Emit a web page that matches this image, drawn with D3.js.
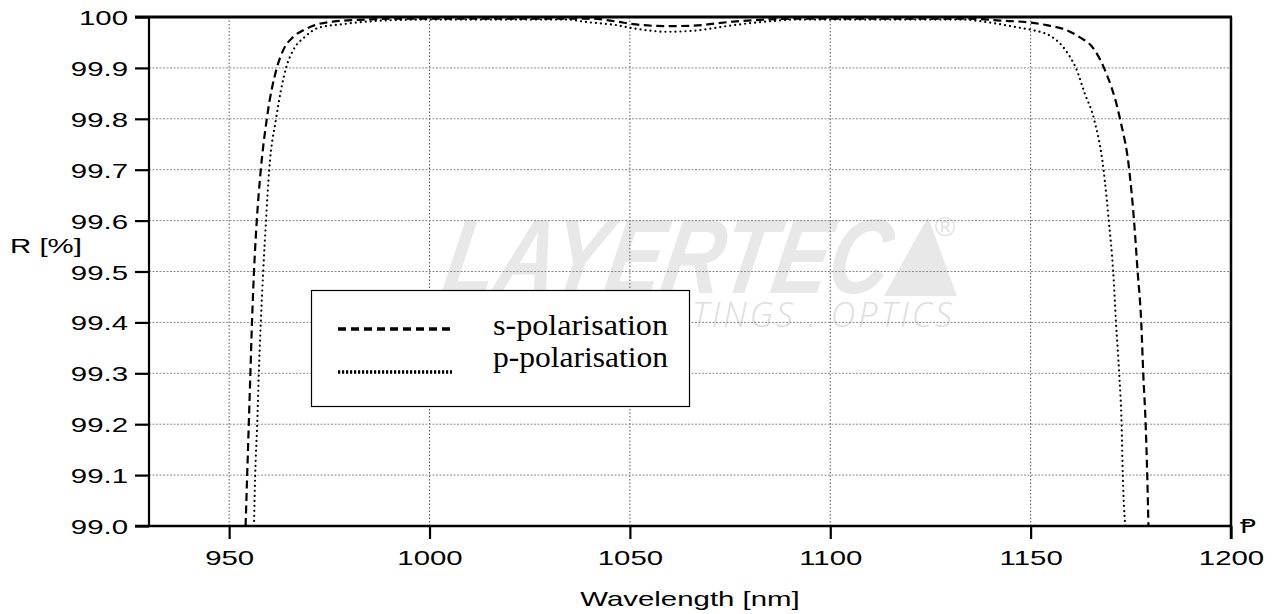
<!DOCTYPE html>
<html>
<head>
<meta charset="utf-8">
<script src="https://cdn.jsdelivr.net/npm/d3@7/dist/d3.min.js"></script>
<style>
  html, body { margin: 0; padding: 0; background: #fff; }
  svg { display: block; }
</style>
</head>
<body>
<svg id="chart" width="1275" height="614"></svg>
<script>
// ---------------- data ----------------
const xTicks = [950, 1000, 1050, 1100, 1150, 1200];
const xTickLabels = ["950", "1000", "1050", "1100", "1150", "1200"];
const yTicks = [99.0, 99.1, 99.2, 99.3, 99.4, 99.5, 99.6, 99.7, 99.8, 99.9, 100];
const yTickLabels = ["99.0", "99.1", "99.2", "99.3", "99.4", "99.5", "99.6", "99.7", "99.8", "99.9", "100"];
const seriesNames = ["s-polarisation", "p-polarisation"];
const xTitle = "Wavelength [nm]";
const yTitle = "R [%]";

const sWavelength = [954.1, 954.5, 954.9, 955.3, 955.7, 956.2, 956.9, 957.9, 959.4, 961.9,
  963.5, 966.0, 968.5, 971.4, 975.9, 984.3, 995, 1040, 1046.7, 1050.8, 1059.2, 1065.8,
  1075.8, 1084.1, 1095, 1134, 1142.5, 1150, 1154, 1159, 1162.3, 1165.5, 1168.3, 1172.3,
  1174.6, 1175.8, 1176.7, 1177.6, 1178.1, 1178.7, 1179.1, 1179.4];
const sReflectance = [99.0, 99.1, 99.2, 99.3, 99.4, 99.5, 99.6, 99.7, 99.8, 99.9,
  99.935, 99.961, 99.974, 99.984, 99.991, 99.995, 99.997, 99.997, 99.991, 99.986, 99.982, 99.983,
  99.991, 99.995, 99.997, 99.997, 99.993, 99.989, 99.984, 99.974, 99.96, 99.94, 99.9, 99.8,
  99.7, 99.6, 99.5, 99.4, 99.3, 99.2, 99.1, 99.0];

const pWavelength = [956.2, 956.5, 957.0, 957.4, 957.9, 958.5, 959.2, 960.0, 961.7, 964.2,
  966.0, 968.9, 972.3, 978.4, 988.4, 1000, 1035, 1038.3, 1046.7, 1050.8, 1059.2, 1065.8,
  1075.8, 1084.1, 1092, 1133, 1138.2, 1146.5, 1150.6, 1154.9, 1157.8, 1159.8, 1161.3, 1163.5,
  1165.8, 1168.2, 1169.5, 1170.6, 1171.3, 1172.1, 1172.7, 1173.0, 1173.6];
const pReflectance = [99.0, 99.1, 99.2, 99.3, 99.4, 99.5, 99.6, 99.7, 99.8, 99.9,
  99.935, 99.961, 99.979, 99.986, 99.993, 99.995, 99.995, 99.991, 99.984, 99.978, 99.971, 99.973,
  99.984, 99.991, 99.995, 99.995, 99.991, 99.980, 99.974, 99.963, 99.944, 99.922, 99.9, 99.85,
  99.8, 99.7, 99.6, 99.5, 99.4, 99.3, 99.2, 99.1, 99.0];

// ---------------- layout ----------------
const svg = d3.select("#chart");
const L = 149, R = 1231, T = 17, B = 526;
const x = d3.scaleLinear().domain([930, 1200]).range([L, R]);
const y = d3.scaleLinear().domain([99, 100]).range([B, T]);
const SANS = "'Liberation Sans', Arial, 'DejaVu Sans', sans-serif";
const SERIF = "'Liberation Serif', 'Times New Roman', serif";
const STRETCH = 1.4;

// ---------------- watermark ----------------
const wm = svg.append("g").attr("class", "watermark");
wm.append("g").attr("transform", "translate(440,293) skewX(-10)")
  .append("text")
  .attr("x", 0).attr("y", 0)
  .attr("font-family", SANS).attr("font-weight", "bold").attr("font-style", "italic")
  .attr("font-size", 106)
  .attr("textLength", 445).attr("lengthAdjust", "spacingAndGlyphs")
  .attr("fill", "#e8e8e8")
  .text("LAYERTEC");
wm.append("polygon")
  .attr("points", "928,217 957,296 884,296")
  .attr("fill", "#e8e8e8");
wm.append("text")
  .attr("x", 945).attr("y", 236)
  .attr("text-anchor", "middle")
  .attr("font-family", SANS).attr("font-size", 28)
  .attr("fill", "#e2e2e2")
  .text("®");
wm.append("text")
  .attr("x", 692).attr("y", 327)
  .attr("font-family", "'Open Sans', 'Liberation Sans', sans-serif")
  .attr("font-weight", 300).attr("font-style", "italic")
  .attr("font-size", 34)
  .attr("textLength", 260).attr("lengthAdjust", "spacing")
  .attr("fill", "#dedede")
  .text("TINGS . OPTICS");

// ---------------- grid ----------------
const grid = svg.append("g").attr("class", "grid");
grid.selectAll("line.vg").data(xTicks.filter(d => d < 1200)).join("line")
  .attr("class", "vg")
  .attr("x1", d => x(d)).attr("x2", d => x(d))
  .attr("y1", T).attr("y2", B)
  .attr("stroke", "#555").attr("stroke-width", 1).attr("stroke-dasharray", "1.5,2");
grid.selectAll("line.hg").data(yTicks.filter(d => d > 99 && d < 100)).join("line")
  .attr("class", "hg")
  .attr("x1", L).attr("x2", R)
  .attr("y1", d => y(d)).attr("y2", d => y(d))
  .attr("stroke", "#8a8a8a").attr("stroke-width", 1).attr("stroke-dasharray", "2,1.5");

// ---------------- curves ----------------
svg.append("clipPath").attr("id", "plotclip")
  .append("rect").attr("x", L).attr("y", T).attr("width", R - L).attr("height", B - T);

const line = d3.line()
  .x(d => x(d[0])).y(d => y(d[1]))
  .curve(d3.curveMonotoneX);

const sData = sWavelength.map((w, i) => [w, sReflectance[i]]);
const pData = pWavelength.map((w, i) => [w, pReflectance[i]]);

const curves = svg.append("g").attr("clip-path", "url(#plotclip)");
curves.append("path").datum(sData)
  .attr("d", line)
  .attr("fill", "none").attr("stroke", "#000")
  .attr("stroke-width", 2.2).attr("stroke-dasharray", "8,4.5");
curves.append("path").datum(pData)
  .attr("d", line)
  .attr("fill", "none").attr("stroke", "#000")
  .attr("stroke-width", 2.2).attr("stroke-linecap", "round")
  .attr("stroke-dasharray", "0.01,5");

// ---------------- axes ----------------
const yAxis = d3.axisLeft(y).tickValues(yTicks)
  .tickFormat((d, i) => yTickLabels[i]).tickSize(14).tickSizeOuter(0);
const yg = svg.append("g").attr("transform", `translate(${L},0)`).call(yAxis);
yg.select(".domain").remove();
yg.selectAll(".tick line").attr("stroke", "#000").attr("stroke-width", 2.2);
yg.selectAll(".tick text")
  .attr("font-family", SANS).attr("font-size", 21).attr("fill", "#000")
  .attr("x", -21 / STRETCH).attr("dy", "0.36em")
  .attr("transform", `scale(${STRETCH},1)`);

const xAxis = d3.axisBottom(x).tickValues(xTicks)
  .tickFormat((d, i) => xTickLabels[i]).tickSize(13).tickSizeOuter(0);
const xg = svg.append("g").attr("transform", `translate(0,${B})`).call(xAxis);
xg.select(".domain").remove();
xg.selectAll(".tick line").attr("stroke", "#000").attr("stroke-width", 2.2);
xg.selectAll(".tick text")
  .attr("font-family", SANS).attr("font-size", 21).attr("fill", "#000")
  .attr("y", 39).attr("dy", 0)
  .attr("transform", `scale(${STRETCH},1)`);

// frame
const frame = svg.append("g").attr("stroke", "#000").attr("fill", "none");
frame.append("line").attr("x1", L - 14).attr("x2", R + 1).attr("y1", T).attr("y2", T).attr("stroke-width", 3);
frame.append("line").attr("x1", L).attr("x2", L).attr("y1", T).attr("y2", B).attr("stroke-width", 2.2);
frame.append("line").attr("x1", L - 14).attr("x2", R + 1).attr("y1", B).attr("y2", B).attr("stroke-width", 2.5);
frame.append("line").attr("x1", R).attr("x2", R).attr("y1", T).attr("y2", B + 13).attr("stroke-width", 2.5);

// corner glyph
svg.append("g").attr("transform", "translate(1240,533)")
  .append("text").attr("transform", `scale(${STRETCH},1)`)
  .attr("font-family", "'DejaVu Sans', sans-serif").attr("font-size", 19).attr("fill", "#000")
  .text("Ᵽ");

// titles
svg.append("g").attr("transform", "translate(10,253)")
  .append("text").attr("transform", `scale(${STRETCH},1)`)
  .attr("font-family", SANS).attr("font-size", 21).attr("fill", "#000")
  .text(yTitle);
svg.append("g").attr("transform", "translate(690,606)")
  .append("text").attr("transform", `scale(${STRETCH},1)`)
  .attr("text-anchor", "middle")
  .attr("font-family", SANS).attr("font-size", 21).attr("fill", "#000")
  .text(xTitle);

// ---------------- legend ----------------
const lg = svg.append("g").attr("class", "legend");
lg.append("rect")
  .attr("x", 311.5).attr("y", 290.5).attr("width", 378).attr("height", 116)
  .attr("fill", "#fff").attr("stroke", "#000").attr("stroke-width", 1.2);
const legendY = [329, 372];
const legendText = [335, 367];
const legendDash = ["8,5", "2.2,1.8"];
seriesNames.forEach((name, i) => {
  lg.append("line")
    .attr("x1", 338).attr("x2", 452)
    .attr("y1", legendY[i]).attr("y2", legendY[i])
    .attr("stroke", "#000").attr("stroke-width", 3.6)
    .attr("stroke-dasharray", legendDash[i]);
  lg.append("text")
    .attr("x", 493).attr("y", legendText[i])
    .attr("font-family", SERIF).attr("font-size", 29).attr("fill", "#000")
    .attr("textLength", 175).attr("lengthAdjust", "spacingAndGlyphs")
    .text(name);
});
</script>
</body>
</html>
